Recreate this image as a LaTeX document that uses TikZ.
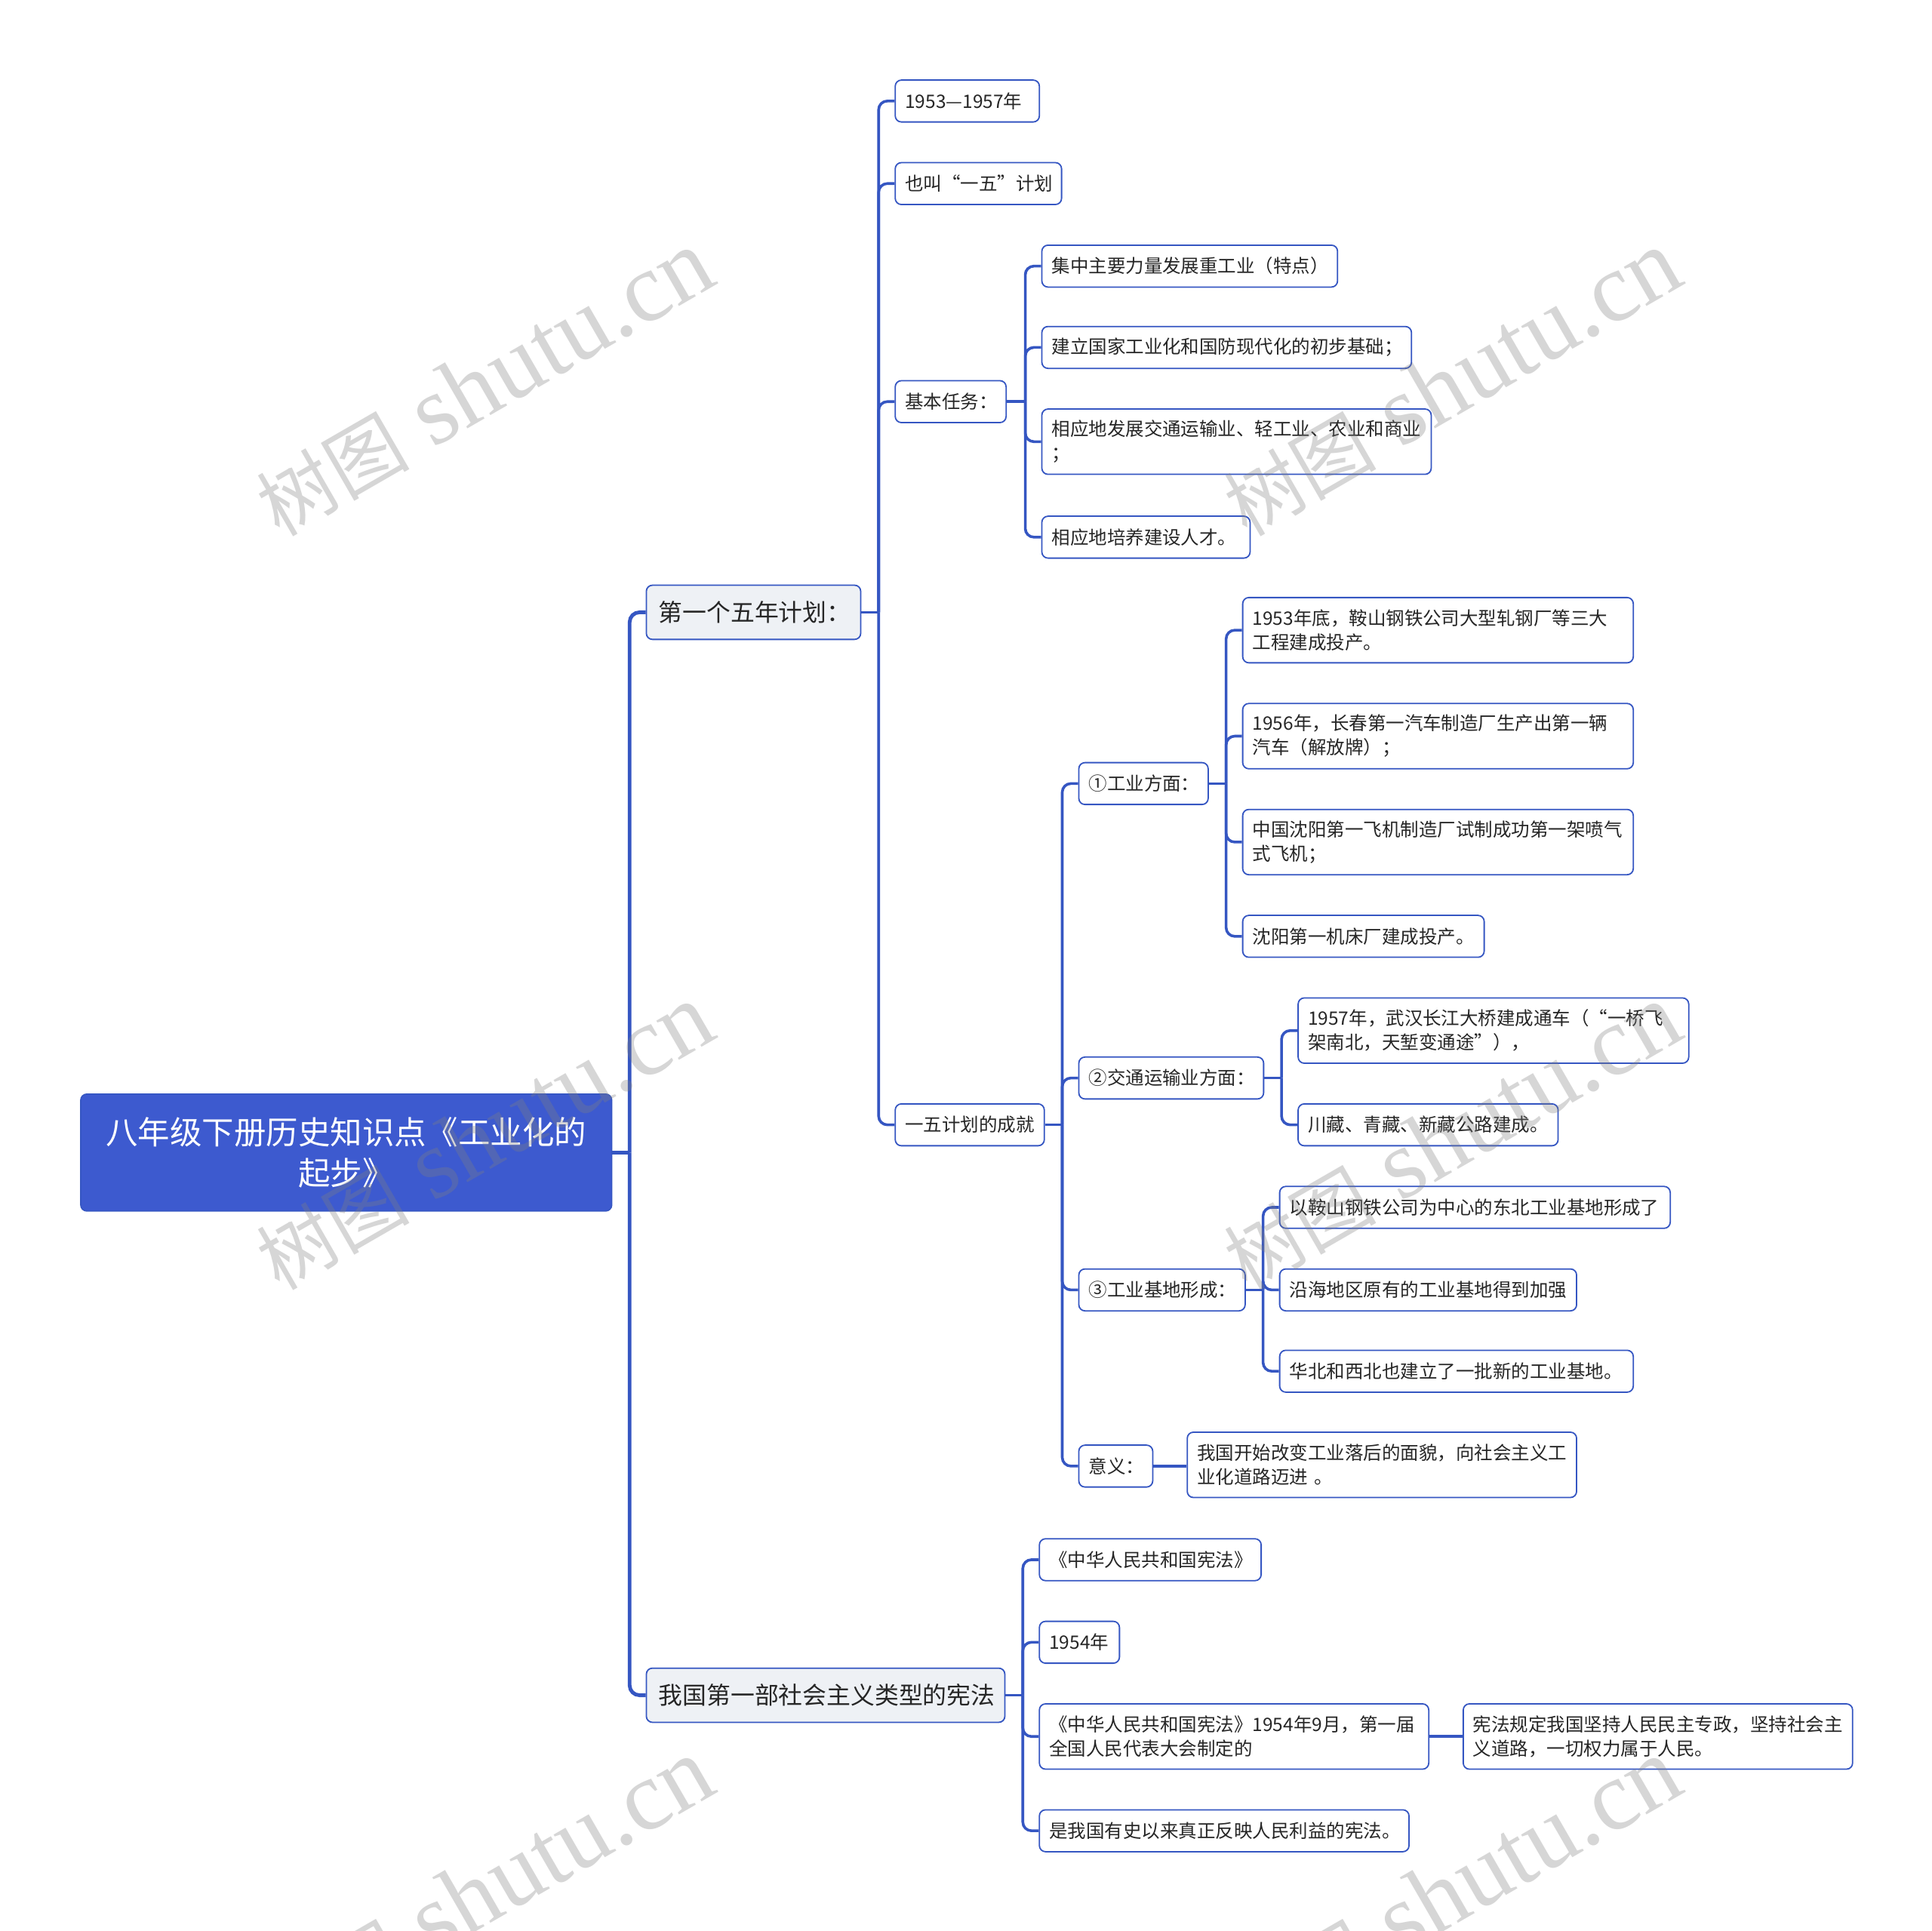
\documentclass[tikz,border=0pt]{standalone}
\usepackage{fontspec}
\setmainfont{Noto Sans CJK SC}
\newfontfamily\wmlatin{Liberation Serif}
\newfontfamily\wmcjk{Noto Sans CJK SC}
\definecolor{lineblue}{HTML}{3556C2}
\definecolor{rootblue}{HTML}{3D5ACF}
\definecolor{lonefill}{HTML}{EEF1F5}
\definecolor{txt}{HTML}{262626}
\begin{document}
\begin{tikzpicture}[x=1pt,y=-1pt,
  leaf/.style={draw=lineblue, line width=1.1pt, rounded corners=5pt, fill=white, text=txt,
    font=\fontsize{15}{19.5}\selectfont, inner xsep=8pt, inner ysep=0pt, anchor=west,
    align=left, minimum height=34pt},
  twoline/.style={minimum height=53pt},
  lone/.style={draw=lineblue, line width=1.1pt, rounded corners=5pt, fill=lonefill, text=txt,
    font=\fontsize{19.5}{24}\selectfont, inner xsep=10pt, inner ysep=0pt, anchor=west,
    align=left, minimum height=44pt},
  rootbox/.style={draw=lineblue, line width=1pt, rounded corners=5pt, fill=rootblue, text=white,
    font=\fontsize{26}{33}\selectfont, inner xsep=8pt, inner ysep=0pt, anchor=west,
    align=center, minimum height=95pt},
  conn/.style={draw=lineblue, line width=2.2pt, rounded corners=7pt},
  rootconn/.style={draw=lineblue, line width=3pt, rounded corners=8pt},
  wm/.style={rotate=30, text=gray, text opacity=0.32, inner sep=0pt}
]
\useasboundingbox (0,0) rectangle (1568,1567);
\fill[white] (0,0) rectangle (1568,1567);

% root and level 1
\node[rootbox, text width=415pt] (root) at (65,935.5) {八年级下册历史知识点《工业化的\\起步》};
\node[lone, text width=154pt] (L1a) at (524,497) {第一个五年计划：};
\node[lone, text width=271pt] (L1b) at (524,1376) {我国第一部社会主义类型的宪法};

% level 2 under first plan
\node[leaf, text width=101pt] (a1) at (726,82) {1953—1957年};
\node[leaf, text width=119pt] (a2) at (726,149) {也叫“一五”计划};
\node[leaf, text width=74pt] (a3) at (726,326) {基本任务：};
\node[leaf, text width=105pt] (a4) at (726,913) {一五计划的成就};

% basic tasks
\node[leaf, text width=224pt] (b1) at (845,216) {集中主要力量发展重工业（特点）};
\node[leaf, text width=284pt] (b2) at (845,282) {建立国家工业化和国防现代化的初步基础；};
\node[leaf, twoline, text width=300pt] (b3) at (845,358.5) {相应地发展交通运输业、轻工业、农业和商业\\；};
\node[leaf, text width=153pt] (b4) at (845,436) {相应地培养建设人才。};

% achievements
\node[leaf, text width=89pt] (c1) at (875,636) {①工业方面：};
\node[leaf, text width=134pt] (c2) at (875,875) {②交通运输业方面：};
\node[leaf, text width=119pt] (c3) at (875,1047) {③工业基地形成：};
\node[leaf, text width=44pt] (c4) at (875,1190) {意义：};

\node[leaf, twoline, text width=301pt] (d1) at (1008,511.5) {1953年底，鞍山钢铁公司大型轧钢厂等三大\\工程建成投产。};
\node[leaf, twoline, text width=301pt] (d2) at (1008,597.5) {1956年，长春第一汽车制造厂生产出第一辆\\汽车（解放牌）；};
\node[leaf, twoline, text width=301pt] (d3) at (1008,683.5) {中国沈阳第一飞机制造厂试制成功第一架喷气\\式飞机；};
\node[leaf, text width=180pt] (d4) at (1008,760) {沈阳第一机床厂建成投产。};

\node[leaf, twoline, text width=301pt] (e1) at (1053,836.5) {1957年，武汉长江大桥建成通车（“一桥飞\\架南北，天堑变通途”），};
\node[leaf, text width=195pt] (e2) at (1053,913) {川藏、青藏、新藏公路建成。};

\node[leaf, text width=301pt] (f1) at (1038,980) {以鞍山钢铁公司为中心的东北工业基地形成了};
\node[leaf, text width=225pt] (f2) at (1038,1047) {沿海地区原有的工业基地得到加强};
\node[leaf, text width=271pt] (f3) at (1038,1113) {华北和西北也建立了一批新的工业基地。};

\node[leaf, twoline, text width=300pt] (g1) at (963,1189) {我国开始改变工业落后的面貌，向社会主义工\\业化道路迈进 。};

% constitution
\node[leaf, text width=164pt] (h1) at (843,1266) {《中华人民共和国宪法》};
\node[leaf, text width=49pt] (h2) at (843,1333) {1954年};
\node[leaf, twoline, text width=300pt] (h3) at (843,1409.5) {《中华人民共和国宪法》1954年9月，第一届\\全国人民代表大会制定的};
\node[leaf, text width=284pt] (h4) at (843,1486) {是我国有史以来真正反映人民利益的宪法。};
\node[leaf, twoline, text width=300pt] (i1) at (1187,1409.5) {宪法规定我国坚持人民民主专政，坚持社会主\\义道路，一切权力属于人民。};

% connectors
\draw[rootconn] (root.east) -- ++(14,0) coordinate (s0);
\draw[rootconn] (s0) |- (L1a.west);
\draw[rootconn] (s0) |- (L1b.west);

\draw[conn] (L1a.east) -- ++(14,0) coordinate (s1);
\foreach \c in {a1,a2,a3,a4} \draw[conn] (s1) |- (\c.west);

\draw[conn] (a3.east) -- ++(15,0) coordinate (s2);
\foreach \c in {b1,b2,b3,b4} \draw[conn] (s2) |- (\c.west);

\draw[conn] (a4.east) -- ++(14,0) coordinate (s3);
\foreach \c in {c1,c2,c3,c4} \draw[conn] (s3) |- (\c.west);

\draw[conn] (c1.east) -- ++(14,0) coordinate (s4);
\foreach \c in {d1,d2,d3,d4} \draw[conn] (s4) |- (\c.west);

\draw[conn] (c2.east) -- ++(14,0) coordinate (s5);
\foreach \c in {e1,e2} \draw[conn] (s5) |- (\c.west);

\draw[conn] (c3.east) -- ++(14,0) coordinate (s6);
\foreach \c in {f1,f2,f3} \draw[conn] (s6) |- (\c.west);

\draw[conn] (c4.east) -- (c4.east -| g1.west);

\draw[conn] (L1b.east) -- ++(14,0) coordinate (s7);
\foreach \c in {h1,h2,h3,h4} \draw[conn] (s7) |- (\c.west);

\draw[conn] (h3.east) -- (i1.west);

% watermarks
\begin{scope}
\clip (0,0) rectangle (1568,1567);
\foreach \wx/\wy/\k in {393/311/1, 1178/311/2, 393/923/3, 1178/923/4, 393/1535/5, 1178/1535/6}
  \node[wm] (wm\k) at (\wx,\wy) {{\wmcjk\fontsize{62}{70}\selectfont 树图}{\wmlatin\fontsize{80}{88}\selectfont\ shutu.cn}};
\end{scope}
\end{tikzpicture}
\end{document}
